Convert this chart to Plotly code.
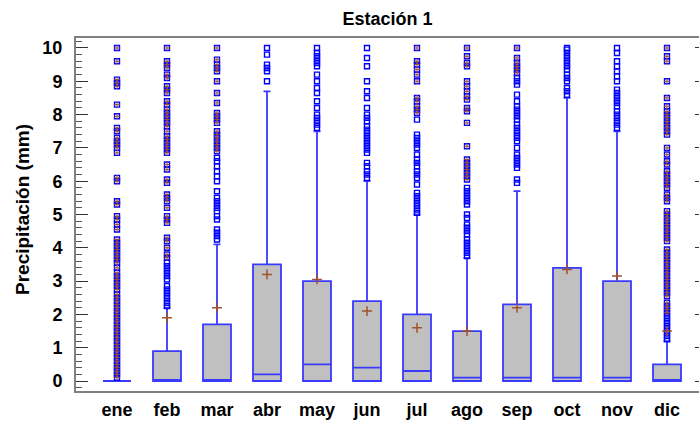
import plotly.graph_objects as go

months = ["ene", "feb", "mar", "abr", "may", "jun", "jul", "ago", "sep", "oct", "nov", "dic"]
q1 = [0, 0, 0, 0, 0, 0, 0, 0, 0, 0, 0, 0]
median = [0, 0, 0, 0.2, 0.5, 0.4, 0.3, 0.1, 0.1, 0.1, 0.1, 0]
q3 = [0, 0.9, 1.7, 3.5, 3.0, 2.4, 2.0, 1.5, 2.3, 3.4, 3.0, 0.5]
lower_fence = [0, 0, 0, 0, 0, 0, 0, 0, 0, 0, 0, 0]
upper_fence = [0, 2.2, 4.1, 8.7, 7.5, 6.0, 5.0, 3.7, 5.7, 8.5, 7.5, 1.2]
means = [None, 1.9, 2.2, 3.2, 3.05, 2.1, 1.6, 1.5, 2.2, 3.35, 3.15, 1.5]

# outside points (hollow squares)
near_ene = []
near_feb = [2.25, 2.35, 2.45, 2.55, 2.65, 2.75, 2.85, 3.05, 3.15, 3.25, 3.35, 3.45, 3.55]
near_mar = [4.25, 4.35, 4.45, 4.55, 4.85, 4.95, 5.1, 5.2, 5.3, 5.4, 5.5, 5.7, 6.0, 6.15, 6.3, 6.45, 6.6, 6.7]
near_abr = [9.0, 9.3, 9.4, 9.5, 9.8, 10.0]
near_may = [7.6, 7.7, 7.8, 7.9, 8.0, 8.2, 8.4, 8.65, 8.8, 9.0, 9.2, 9.45, 9.55, 9.65, 9.75, 9.85, 10.0]
near_jun = [6.1, 6.2, 6.3, 6.45, 6.55, 6.85, 6.95, 7.05, 7.15, 7.25, 7.35, 7.45, 7.55, 7.65, 7.8, 7.9, 8.0,
            8.2, 8.5, 8.7, 9.0, 9.45, 9.7, 10.0]
near_jul = [5.05, 5.15, 5.25, 5.35, 5.45, 5.55, 5.65, 5.9, 6.1, 6.2, 6.3, 6.45, 6.55, 6.65, 6.8, 7.0, 7.1,
            7.2, 7.3, 7.4, 7.85]
near_ago = [3.75, 3.85, 3.95, 4.05, 4.15, 4.25, 4.4, 4.5, 4.6, 4.7, 4.9, 5.0, 5.3, 5.4, 5.5, 5.6, 5.7, 5.8]
near_sep = [5.95, 6.05, 6.4, 6.5, 6.6, 6.7, 6.8, 7.0, 7.2, 7.3, 7.4, 7.5, 7.6, 7.7, 7.85, 7.95, 8.05, 8.15,
            8.25, 8.4, 8.6, 8.9, 9.0, 9.1]
near_oct = [8.6, 8.7, 8.8, 9.0, 9.1, 9.2, 9.35, 9.45, 9.55, 9.65, 9.75, 9.85, 9.95, 10.0]
near_nov = [7.6, 7.7, 7.8, 7.9, 8.0, 8.1, 8.25, 8.35, 8.45, 8.55, 8.65, 8.75, 9.0, 9.15, 9.3, 9.45, 9.6,
            9.85, 10.0]
near_dic = [1.25, 1.35, 1.45, 1.55, 1.65, 1.75, 1.85, 1.95]

# far outside points (squares with plus)
far_ene = [10.0, 9.6, 9.05, 8.95, 8.85, 8.3, 7.95, 7.6, 7.5, 7.3, 7.2, 7.1, 7.0, 6.85, 6.1, 6.0, 5.4, 5.3,
           4.95, 4.85, 4.7, 4.55, 4.25, 4.15, 4.05, 3.95, 3.85, 3.75, 3.65, 3.55, 3.4, 3.25, 3.15, 3.05,
           2.95, 2.85, 2.75, 2.6, 2.5, 2.4, 2.3, 2.2, 2.1, 2.0, 1.9, 1.8, 1.7, 1.6, 1.5, 1.4, 1.3, 1.2,
           1.1, 1.0, 0.9, 0.8, 0.7, 0.6, 0.5, 0.4, 0.3, 0.2, 0.1]
far_feb = [3.7, 3.8, 4.0, 4.2, 4.3, 4.75, 4.85, 4.95, 5.2, 5.4, 5.5, 5.6, 5.95, 6.05, 6.35, 6.5, 6.85, 6.95,
           7.05, 7.15, 7.25, 7.35, 7.5, 7.65, 7.75, 7.85, 7.95, 8.05, 8.15, 8.3, 8.4, 8.65, 8.75, 8.85,
           9.1, 9.2, 9.4, 9.5, 9.6, 10.0]
far_mar = [6.9, 7.0, 7.1, 7.2, 7.3, 7.4, 7.5, 7.75, 7.85, 7.95, 8.05, 8.35, 8.65, 9.0, 9.3, 9.4, 9.5, 9.65, 10.0]
far_abr = []
far_may = []
far_jun = []
far_jul = [8.05, 8.15, 8.25, 8.4, 8.5, 9.0, 9.2, 9.35, 9.5, 9.6, 10.0]
far_ago = [6.05, 6.15, 6.25, 6.35, 6.45, 6.55, 6.65, 7.05, 7.75, 8.1, 8.2, 8.45, 8.55, 8.7, 8.85, 9.0,
           9.45, 9.55, 9.75, 10.0]
far_sep = [9.25, 9.35, 9.45, 9.55, 9.7, 10.0]
far_oct = []
far_nov = []
far_dic = [2.05, 2.15, 2.25, 2.35, 2.55, 2.65, 2.75, 2.85, 2.95, 3.05, 3.15, 3.25, 3.35, 3.45, 3.55, 3.65,
           3.75, 3.85, 3.95, 4.2, 4.3, 4.4, 4.5, 4.6, 4.7, 4.8, 4.9, 5.0, 5.1, 5.4, 5.5, 5.6, 5.8, 5.9,
           6.0, 6.1, 6.2, 6.3, 6.5, 6.6, 6.8, 7.0, 7.4, 7.5, 7.6, 7.7, 7.8, 7.9, 8.0, 8.1, 8.25, 8.5,
           9.0, 9.6, 9.75, 10.0]

near_all = [near_ene, near_feb, near_mar, near_abr, near_may, near_jun, near_jul, near_ago, near_sep,
            near_oct, near_nov, near_dic]
far_all = [far_ene, far_feb, far_mar, far_abr, far_may, far_jun, far_jul, far_ago, far_sep,
           far_oct, far_nov, far_dic]

BLUE = "#0000ff"
BROWN = "#a0522d"
FONT = "Liberation Sans, Arial, sans-serif"

fig = go.Figure()
fig.add_trace(go.Box(
    x=months, q1=q1, median=median, q3=q3, lowerfence=lower_fence, upperfence=upper_fence,
    boxpoints=False, fillcolor="#c0c0c0", line=dict(color="#3a3aff", width=1.8),
    whiskerwidth=0.25, showlegend=False, hoverinfo="skip"))

nx, ny, fx, fy = [], [], [], []
for m, nv, fv in zip(months, near_all, far_all):
    nx += [m] * len(nv)
    ny += nv
    fx += [m] * len(fv)
    fy += fv

fig.add_trace(go.Scatter(x=nx, y=ny, mode="markers", showlegend=False,
                         marker=dict(symbol="square-open", size=5, color=BLUE, line=dict(width=1.4, color=BLUE))))
fig.add_trace(go.Scatter(x=fx, y=fy, mode="markers", showlegend=False,
                         marker=dict(symbol="square-open", size=5, color=BLUE, line=dict(width=1.4, color=BLUE))))
fig.add_trace(go.Scatter(x=fx, y=fy, mode="markers", showlegend=False,
                         marker=dict(symbol="cross-thin-open", size=4, color=BROWN, line=dict(width=1, color=BROWN))))
fig.add_trace(go.Scatter(x=months, y=means, mode="markers", showlegend=False,
                         marker=dict(symbol="cross-thin-open", size=7, color=BROWN, line=dict(width=1.5, color=BROWN))))

fig.update_layout(
    width=699, height=423, template="none",
    paper_bgcolor="white", plot_bgcolor="white",
    margin=dict(l=76, r=0, t=38, b=32),
    boxgap=0.2,
    font=dict(family=FONT, size=18, color="black"),
    title=dict(text="<b>Estación 1</b>", x=0.5, xref="paper", xanchor="center",
               y=1 - 19 / 423, yref="container", yanchor="middle",
               font=dict(family=FONT, size=18, color="black")),
    xaxis=dict(type="category", range=[-0.82, 11.64], showline=True, linecolor="#808080", linewidth=2,
               mirror=True, ticks="", showgrid=False, zeroline=False, automargin=False,
               tickfont=dict(family=FONT, size=18, color="black", weight="bold"), ticklabelstandoff=1),
    yaxis=dict(range=[-0.3, 10.3], tickvals=[0, 1, 2, 3, 4, 5, 6, 7, 8, 9, 10],
               showline=True, linecolor="#808080", linewidth=2, mirror=False,
               ticks="inside", ticklen=12, tickwidth=1, tickcolor="#333333",
               minor=dict(dtick=0.2, ticks="inside", ticklen=6, tickwidth=1, tickcolor="#555555"),
               showgrid=False, zeroline=False, automargin=False,
               tickfont=dict(family=FONT, size=18, color="black", weight="bold"), ticklabelstandoff=8),
    yaxis2=dict(range=[-0.3, 10.3], overlaying="y", side="right", tickvals=[0, 1, 2, 3, 4, 5, 6, 7, 8, 9, 10],
                showline=False, ticks="inside", ticklen=4, tickwidth=1, tickcolor="#333333",
                showticklabels=False, showgrid=False, zeroline=False, automargin=False),
    annotations=[dict(text="<b>Precipitación (mm)</b>", textangle=-90, x=(22 - 76) / 623, xref="paper",
                      y=(391 - 210) / 353, yref="paper", xanchor="center", yanchor="middle",
                      showarrow=False, font=dict(family=FONT, size=19, color="black"))],
)
# trace on yaxis2 so its ticks render
fig.add_trace(go.Scatter(x=[months[0]], y=[None], yaxis="y2", showlegend=False, hoverinfo="skip"))

fig.write_html("out.html", config={"displayModeBar": False},
               post_script="document.body.style.margin='0';document.body.style.overflow='hidden';")
